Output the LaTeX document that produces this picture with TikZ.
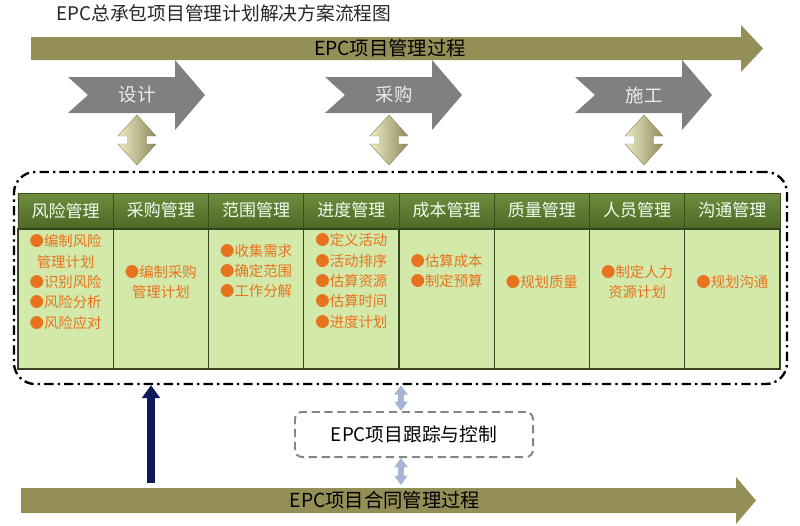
\documentclass[tikz,border=0pt]{standalone}
\usepackage{fontspec}
\newfontfamily\cjk{Noto Sans CJK SC}
\usetikzlibrary{arrows.meta}
\usetikzlibrary{positioning}
\definecolor{barolive}{HTML}{948E57}
\definecolor{chevgray}{HTML}{808080}
\definecolor{hdrtop}{HTML}{6F8D3F}
\definecolor{hdrbot}{HTML}{4D6925}
\definecolor{hdrline}{HTML}{394E1B}
\definecolor{cellgreen}{HTML}{D2E9AA}
\definecolor{cellline}{HTML}{34441E}
\definecolor{itemorange}{HTML}{E8731F}
\definecolor{beigelight}{HTML}{EEECC8}
\definecolor{beigedark}{HTML}{8E8A5B}
\definecolor{navyarrow}{HTML}{0C1A5A}
\definecolor{udblue}{HTML}{A5B5D6}
\definecolor{trackgray}{HTML}{858585}
\tikzset{headcell/.style = {draw=hdrline, line width=0.8pt, top color=hdrtop, bottom color=hdrbot, minimum width=2.8575cm, minimum height=1.05cm, inner sep=0pt, text=white!94!green, font=\cjk\fontsize{14.5}{17}\selectfont}}
\tikzset{bodycell/.style = {draw=cellline, line width=1.2pt, fill=cellgreen, minimum width=2.8575cm, minimum height=4.2cm, inner sep=0pt}}
\tikzset{itemtext/.style = {text=itemorange, align=center, inner sep=0pt, font=\cjk\fontsize{12.3}{17.4}\selectfont}}
\tikzset{bartext/.style = {text=black, inner sep=0pt, font=\cjk\fontsize{16.5}{19}\selectfont}}
\tikzset{chevtext/.style = {text=white!93!black, inner sep=0pt, font=\cjk\fontsize{15.7}{18}\selectfont}}
\tikzset{frame/.style = {draw=black, line width=2pt, rounded corners=18pt, dash pattern=on 8pt off 3.5pt on 2pt off 3.5pt, minimum width=23.19cm, minimum height=6.36cm}}
\tikzset{trackbox/.style = {draw=trackgray, line width=1.7pt, rounded corners=6pt, dash pattern=on 7pt off 4pt, minimum width=7.14cm, minimum height=1.35cm, font=\cjk\fontsize{16}{19}\selectfont}}
\tikzset{navyedge/.style = {-{Triangle[width=15pt,length=11pt]}, line width=6.8pt, draw=navyarrow}}
\tikzset{udedge/.style = {{Triangle[width=11pt,length=8pt]}-{Triangle[width=11pt,length=8pt]}, line width=4.5pt, draw=udblue}}

\begin{document}
\begin{tikzpicture}[x=0.03cm,y=-0.03cm]
            \useasboundingbox (0,0) rectangle (800,526);

            % Title
            \node[text=black!85, font=\cjk\fontsize{16}{19}\selectfont] (title) at (224,13) {EPC总承包项目管理计划解决方案流程图};

            % Process bars
            \fill[barolive] (31,37) -- (741,37) -- (741,25) -- (763,48.5) -- (741,72) -- (741,60) -- (31,60) -- cycle;
            \node[bartext] (mgmt) at (390,48.5) {EPC项目管理过程};
            \fill[barolive] (21,488) -- (736,488) -- (736,477) -- (756,500.5) -- (736,524) -- (736,513) -- (21,513) -- cycle;
            \node[bartext] (contract) at (385,500.5) {EPC项目合同管理过程};

            % Phases
            \foreach \x/\name/\lbl in {68/design/设计, 325/purchase/采购, 575/build/施工} {
              \fill[chevgray] (\x,77) -- (\x+107,77) -- (\x+107,60) -- (\x+137,95) -- (\x+107,130) -- (\x+107,113) -- (\x,113) -- (\x+20,95) -- cycle;
              \node[chevtext] (\name) at (\x+69,95) {\lbl};
            }

            % Phase links
            \foreach \cx in {137,389,644}
              \draw[beigedark, line width=0.4pt, left color=beigelight, middle color=beigelight!80!beigedark, right color=beigedark]
                (\cx,115) -- ++(19,21) -- ++(-9.5,0) -- ++(0,8) -- ++(9.5,0) -- (\cx,165) -- ++(-19,-21) -- ++(9.5,0) -- ++(0,-8) -- ++(-9.5,0) -- cycle;

            % Knowledge areas
            \node[frame] (frame) at (400.5,278) {};
            \foreach \area [count=\i] in {风险管理,采购管理,范围管理,进度管理,成本管理,质量管理,人员管理,沟通管理} {
              \node[headcell] (h\i) at ({18+95.25*(\i-0.5)},210.5) {\area};
              \node[bodycell, below=0pt of h\i] (b\i) {};
            }
            \foreach \i/\yy/\txt in {1/282/{●编制风险\\管理计划\\●识别风险\\●风险分析\\●风险应对},
                                     2/282/{●编制采购\\管理计划},
                                     3/271/{●收集需求\\●确定范围\\●工作分解},
                                     4/281/{●定义活动\\●活动排序\\●估算资源\\●估算时间\\●进度计划},
                                     5/271/{●估算成本\\●制定预算},
                                     6/282/{●规划质量},
                                     7/282/{●制定人力\\资源计划},
                                     8/282/{●规划沟通}}
              \node[itemtext] (t\i) at ({18+95.25*(\i-0.5)},\yy) {\txt};

            % Tracking
            \node[trackbox] (track) at (414,434.5) {EPC项目跟踪与控制};
            \coordinate (navyfoot) at (151,483);
            \coordinate (udmid) at (401,485);

            % Edges
            \draw[navyedge] (navyfoot) -- (navyfoot |- frame.south);
            \draw[udedge] (udmid |- frame.south) -- (udmid |- track.north);
            \draw[udedge] (udmid |- track.south) -- (udmid);
\end{tikzpicture}
\end{document}
